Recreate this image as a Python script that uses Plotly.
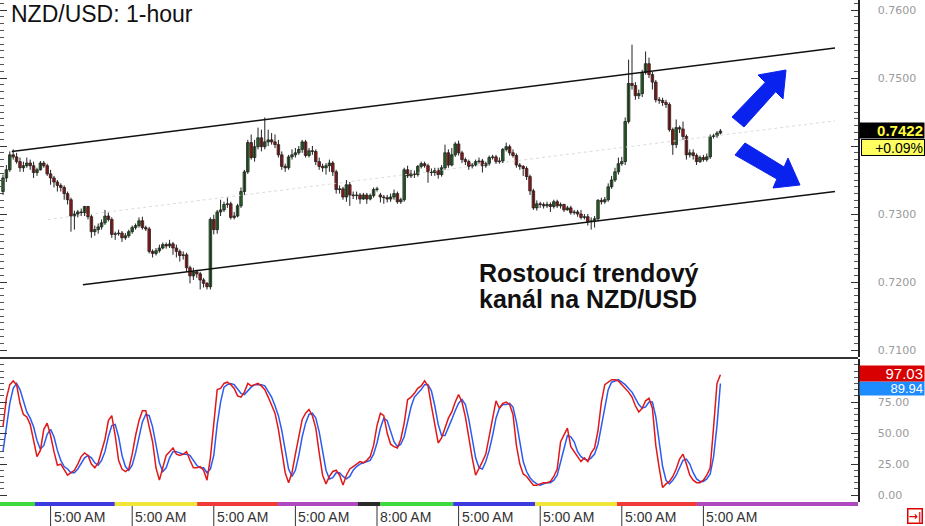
import plotly.graph_objects as go

W, H = 925, 526

# ---------------- data (prices in 1e-4 units) ----------------
OPEN_PIPS = [7333,7353,7365,7387,7384,7377,7368,7371,7375,7371,7361,7365,7375,7371,7359,7353,7347,7342,7339,7330,
             7321,7297,7300,7303,7302,7311,7296,7274,7277,7281,7287,7297,7292,7270,7271,7272,7265,7268,7274,7280,
             7283,7290,7280,7278,7245,7242,7246,7250,7255,7253,7256,7250,7245,7239,7240,7221,7209,7215,7212,7203,
             7198,7193,7292,7277,7303,7306,7314,7315,7295,7297,7312,7333,7362,7405,7383,7399,7412,7399,7406,7409,
             7406,7402,7387,7370,7368,7384,7387,7390,7395,7406,7386,7393,7392,7377,7370,7368,7371,7375,7362,7336,
             7337,7325,7343,7328,7327,7328,7322,7328,7322,7327,7336,7328,7325,7324,7322,7325,7330,7318,7321,7365,
             7356,7359,7358,7370,7374,7371,7362,7361,7364,7358,7368,7390,7372,7387,7403,7390,7380,7377,7370,7372,
             7377,7378,7371,7374,7383,7384,7377,7378,7395,7399,7390,7386,7372,7370,7367,7355,7334,7309,7315,7314,
             7312,7314,7311,7318,7312,7314,7306,7309,7302,7303,7300,7295,7296,7289,7290,7293,7320,7318,7321,7340,
             7350,7362,7374,7377,7436,7492,7489,7474,7477,7508,7521,7505,7494,7468,7467,7464,7461,7424,7402,7427,
             7425,7414,7387,7390,7386,7377,7383,7380,7384,7414,7415,7419]
HIGH_PIPS = [7358,7372,7392,7395,7390,7383,7377,7383,7380,7377,7368,7378,7378,7374,7365,7356,7350,7345,7342,7333,
             7324,7305,7306,7308,7312,7312,7299,7283,7286,7292,7306,7302,7295,7274,7277,7275,7272,7277,7283,7286,
             7295,7296,7283,7281,7248,7250,7255,7258,7258,7262,7259,7255,7248,7245,7243,7224,7221,7218,7215,7206,
             7200,7295,7299,7306,7321,7318,7324,7318,7303,7315,7339,7365,7409,7417,7409,7427,7424,7442,7424,7419,
             7417,7409,7392,7374,7387,7395,7397,7400,7409,7409,7397,7400,7395,7383,7374,7375,7380,7378,7365,7342,
             7340,7350,7347,7333,7333,7331,7331,7331,7330,7339,7340,7331,7328,7328,7330,7336,7333,7324,7368,7371,
             7365,7364,7372,7377,7377,7374,7367,7368,7368,7372,7402,7395,7397,7406,7408,7393,7383,7380,7375,7380,
             7383,7381,7377,7386,7387,7387,7383,7397,7405,7402,7395,7389,7375,7372,7370,7358,7337,7320,7318,7317,
             7318,7317,7321,7321,7317,7315,7312,7312,7306,7306,7306,7300,7300,7295,7297,7322,7324,7325,7345,7356,
             7368,7383,7384,7442,7527,7549,7494,7483,7512,7539,7530,7509,7497,7472,7471,7468,7464,7427,7439,7430,
             7436,7417,7395,7395,7389,7386,7387,7389,7417,7418,7422,7425]
LOW_PIPS = [7328,7347,7362,7380,7374,7362,7362,7368,7365,7353,7356,7364,7368,7356,7343,7339,7333,7333,7321,7314,
            7274,7277,7295,7297,7297,7292,7265,7268,7271,7277,7284,7289,7265,7262,7268,7259,7262,7265,7271,7277,
            7280,7277,7275,7242,7236,7239,7243,7248,7249,7250,7240,7236,7230,7233,7215,7198,7203,7206,7189,7192,
            7189,7189,7270,7271,7297,7303,7309,7292,7292,7295,7309,7328,7359,7380,7377,7395,7392,7395,7400,7402,
            7397,7383,7365,7362,7365,7380,7383,7387,7390,7383,7383,7387,7372,7365,7362,7358,7362,7356,7330,7330,
            7321,7318,7312,7322,7321,7315,7321,7315,7320,7324,7333,7317,7315,7317,7318,7321,7315,7315,7318,7353,
            7353,7353,7355,7367,7368,7346,7356,7356,7352,7355,7365,7368,7370,7384,7386,7375,7372,7365,7367,7370,
            7374,7361,7368,7371,7380,7374,7374,7375,7392,7386,7383,7368,7365,7356,7350,7328,7306,7305,7309,7308,
            7309,7303,7308,7309,7308,7303,7305,7299,7299,7296,7292,7292,7283,7277,7280,7290,7314,7315,7318,7337,
            7347,7358,7371,7372,7433,7483,7468,7469,7472,7505,7500,7483,7464,7462,7459,7456,7421,7387,7397,7419,
            7409,7380,7383,7380,7372,7375,7377,7377,7381,7411,7412,7417]
CLOSE_PIPS = [7353,7365,7387,7384,7377,7368,7371,7375,7371,7361,7365,7375,7371,7359,7353,7347,7342,7339,7330,7321,
              7297,7300,7303,7302,7311,7296,7274,7277,7281,7287,7297,7292,7270,7271,7272,7265,7268,7274,7280,7283,
              7290,7280,7278,7245,7242,7246,7250,7255,7253,7256,7250,7245,7239,7240,7221,7209,7215,7212,7203,7198,
              7193,7292,7277,7303,7306,7314,7315,7295,7297,7312,7333,7362,7405,7383,7399,7412,7399,7406,7409,7406,
              7402,7387,7370,7368,7384,7387,7390,7395,7406,7386,7393,7392,7377,7370,7368,7371,7375,7362,7336,7337,
              7325,7343,7328,7327,7328,7322,7328,7322,7327,7336,7337,7325,7324,7322,7325,7330,7318,7321,7365,7356,
              7359,7358,7370,7374,7371,7362,7361,7364,7358,7368,7390,7372,7387,7403,7390,7380,7377,7370,7372,7377,
              7378,7371,7374,7383,7384,7377,7378,7395,7399,7390,7386,7372,7370,7367,7355,7334,7309,7315,7314,7312,
              7314,7311,7318,7312,7314,7306,7309,7302,7303,7300,7295,7296,7289,7290,7293,7320,7318,7321,7340,7350,
              7362,7374,7377,7436,7492,7489,7474,7477,7508,7521,7505,7494,7468,7467,7464,7461,7424,7402,7427,7425,
              7414,7387,7390,7386,7377,7383,7380,7384,7414,7415,7419,7422]

STOCH_K = [55,78,89,92,89,74,65,63,57,45,31,36,53,58,48,35,24,25,21,16,
           18,20,25,31,34,32,25,22,26,35,45,60,64,48,28,21,19,21,33,48,
           60,68,68,55,43,22,12,22,32,35,38,33,32,33,35,28,22,22,23,20,
           12,30,55,85,86,90,91,89,86,80,79,83,90,88,89,90,88,85,79,72,
           66,53,36,18,10,18,33,46,61,66,69,64,54,34,16,9,15,19,20,16,
           8,16,21,23,25,27,26,28,31,40,56,66,64,50,41,39,38,45,58,77,
           79,82,86,88,92,88,72,56,42,46,55,62,67,75,81,75,63,45,30,16,
           21,27,33,47,64,76,70,74,75,73,65,40,25,17,15,11,8,8,9,10,
           10,11,15,21,43,48,54,39,35,30,27,30,27,34,38,52,75,89,91,93,
           93,92,89,86,83,79,72,67,70,76,78,70,40,22,6,9,11,15,21,29,
           33,25,16,12,10,10,12,16,22,55,90,97.03]
STOCH_D = [35,55,74,86,90,85,76,67,62,55,44,37,40,49,53,47,36,28,23,21,
           18,18,21,25,30,32,30,26,24,28,35,47,56,57,47,32,23,20,24,34,
           47,59,65,64,55,40,26,19,22,30,35,35,34,33,33,32,28,24,22,22,
           18,21,32,57,75,87,89,90,89,85,82,81,84,87,89,89,89,88,84,79,
           72,64,52,36,21,15,20,32,47,58,65,66,62,51,35,20,13,14,18,18,
           15,13,15,20,23,25,26,27,28,33,42,54,62,60,52,43,39,41,47,60,
           71,79,82,85,89,89,84,72,57,48,48,54,61,68,74,77,73,61,46,30,
           22,21,27,36,48,62,70,73,73,74,71,59,43,27,19,14,11,9,8,9,
           10,10,12,16,26,37,48,47,43,35,31,29,28,30,33,41,55,72,85,91,
           92,93,91,89,86,83,78,73,70,71,75,75,63,44,23,12,9,12,16,22,
           28,29,25,18,13,11,11,13,17,31,56,89.94]

# channel trend lines (candle index, price)
UPPER_X, UPPER_Y = [2.6, 244.7], [0.7392, 0.7544]
LOWER_X, LOWER_Y = [23.5, 244.7], [0.7196, 0.7333]
MID_X, MID_Y = [13.2, 244.7], [0.7292, 0.7437]

PRICE_TICKS = [0.71, 0.72, 0.73, 0.74, 0.75, 0.76]
PRICE_TICK_TEXT = ["0.7100", "0.7200", "0.7300", "", "0.7500", "0.7600"]  # 0.7400 hidden by price tag
STOCH_TICKS = [0, 25, 50, 75]
TIME_TICK_IDX = [14, 38, 62, 86, 110, 134, 158, 182, 206]
TIME_TICK_TEXT = ["5:00 AM", "5:00 AM", "5:00 AM", "5:00 AM", "8:00 AM",
                  "5:00 AM", "5:00 AM", "5:00 AM", "5:00 AM"]
SESSION_BOUNDS = [-0.9, 9.4, 32.9, 57.1, 80.9, 104.4, 110.9, 132.4, 156.5, 180.6, 204.1, 251.5]
SESSION_COLORS = ["#3fd83f", "#3b3be0", "#f2e53a", "#f03a3a", "#b048c0", "#2a2a2a",
                  "#3fd83f", "#3b3be0", "#f2e53a", "#f03a3a", "#b048c0"]
LAST_PRICE, LAST_CHANGE = "0.7422", "+0.09%"
K_LABEL, D_LABEL = "97.03", "89.94"
NOTE_LINES = ["Rostoucí trendový", "kanál na NZD/USD"]

opens = [v / 10000 for v in OPEN_PIPS]
highs = [v / 10000 for v in HIGH_PIPS]
lows = [v / 10000 for v in LOW_PIPS]
closes = [v / 10000 for v in CLOSE_PIPS]
idx = list(range(len(closes)))

# ---------------- geometry helpers ----------------
def py(p):  # pixel y -> paper y
    return 1 - p / H

def pxx(p):
    return p / W

XMAX = 858  # right axis pixel
XR = [-0.88, 251.47]

fig = go.Figure()

fig.add_trace(go.Scatter(x=MID_X, y=MID_Y, mode="lines", line=dict(color="#dcdcdc", width=1, dash="dot"),
                         hoverinfo="skip", showlegend=False, xaxis="x", yaxis="y"))

# candle wicks
wx, wy = [], []
for i, h, l in zip(idx, highs, lows):
    wx += [i, i, None]
    wy += [l, h, None]
fig.add_trace(go.Scatter(x=wx, y=wy, mode="lines", line=dict(color="#222", width=1),
                         hoverinfo="skip", showlegend=False, xaxis="x", yaxis="y"))
# candle bodies
base = [min(o, c) for o, c in zip(opens, closes)]
height = [max(abs(c - o), 0.00009) for o, c in zip(opens, closes)]
colors = ["#30a530" if c >= o else "#ff1414" for o, c in zip(opens, closes)]
fig.add_trace(go.Bar(x=idx, y=height, base=base, width=0.75,
                     marker=dict(color=colors, line=dict(color="#1a1a1a", width=0.8)),
                     hoverinfo="skip", showlegend=False, xaxis="x", yaxis="y"))

fig.add_trace(go.Scatter(x=UPPER_X, y=UPPER_Y, mode="lines", line=dict(color="#111", width=1.5),
                         hoverinfo="skip", showlegend=False, xaxis="x", yaxis="y"))
fig.add_trace(go.Scatter(x=LOWER_X, y=LOWER_Y, mode="lines", line=dict(color="#111", width=1.5),
                         hoverinfo="skip", showlegend=False, xaxis="x", yaxis="y"))

fig.add_trace(go.Scatter(x=idx, y=STOCH_D, mode="lines", line=dict(color="#2a5cf0", width=1.5),
                         hoverinfo="skip", showlegend=False, xaxis="x2", yaxis="y2"))
fig.add_trace(go.Scatter(x=idx, y=STOCH_K, mode="lines", line=dict(color="#e01818", width=1.5),
                         hoverinfo="skip", showlegend=False, xaxis="x2", yaxis="y2"))

axis_font = dict(family="DejaVu Sans", size=11, color="#9a9a9a")
common_y = dict(side="right", showgrid=False, zeroline=False, showline=True, linecolor="#222",
                linewidth=1.5, mirror="allticks", ticks="inside", ticklen=7, tickcolor="#333",
                tickfont=axis_font, ticklabelstandoff=16, automargin=False, fixedrange=True)

fig.update_layout(
    width=W, height=H, margin=dict(l=0, r=0, t=0, b=0),
    paper_bgcolor="white", plot_bgcolor="white", showlegend=False, barmode="overlay",
    xaxis=dict(domain=[0, XMAX / W], range=XR, showticklabels=False, showgrid=False, zeroline=False,
               anchor="y", fixedrange=True),
    xaxis2=dict(domain=[0, XMAX / W], range=XR, showticklabels=False, showgrid=False, zeroline=False,
                anchor="y2", matches="x", fixedrange=True),
    yaxis=dict(domain=[py(357), 1], range=[0.70897, 0.76147], anchor="x",
               tickvals=PRICE_TICKS, ticktext=PRICE_TICK_TEXT,
               minor=dict(ticks="inside", dtick=0.001, ticklen=4, tickcolor="#555", showgrid=False),
               **common_y),
    yaxis2=dict(domain=[py(502), py(359)], range=[-5.6, 109.7], anchor="x2",
                tickvals=STOCH_TICKS, ticktext=[f"{v:.2f}" for v in STOCH_TICKS],
                minor=dict(ticks="inside", dtick=5, ticklen=4, tickcolor="#555", showgrid=False),
                **common_y),
)

shapes = []
shapes.append(dict(type="line", xref="paper", yref="paper", x0=0, x1=pxx(XMAX), y0=py(358), y1=py(358),
                   line=dict(color="#333", width=2)))
for i, c in enumerate(SESSION_COLORS):
    shapes.append(dict(type="rect", xref="x", yref="paper", x0=SESSION_BOUNDS[i], x1=SESSION_BOUNDS[i + 1],
                       y0=py(506), y1=py(502), fillcolor=c, line=dict(width=0), layer="above"))
for t in TIME_TICK_IDX:
    shapes.append(dict(type="line", xref="x", yref="paper", x0=t, x1=t, y0=0, y1=py(506),
                       line=dict(color="#333", width=1)))

def poly(points):
    return "M " + " L ".join(f"{pxx(x):.5f},{py(y):.5f}" for x, y in points) + " Z"

up_arrow = [(732, 117), (744, 127), (775.7, 91.7), (783, 99), (786, 70), (758, 75), (765.3, 82.3)]
down_arrow = [(745, 143), (735, 155), (776.9, 179), (773, 188), (800, 185), (788, 158), (784.1, 167)]
for a in (up_arrow, down_arrow):
    shapes.append(dict(type="path", xref="paper", yref="paper", path=poly(a),
                       fillcolor="#0a22ee", line=dict(color="#0a22ee", width=1)))
fig.update_layout(shapes=shapes)

ann = []
ann.append(dict(x=pxx(9), y=py(14), xref="paper", yref="paper", xanchor="left", yanchor="middle",
                text="NZD/USD: 1-hour", showarrow=False,
                font=dict(family="Liberation Sans", size=23, color="#111")))
for k, (line, yy) in enumerate(zip(NOTE_LINES, [273, 299])):
    ann.append(dict(x=pxx(477), y=py(yy), xref="paper", yref="paper", xanchor="left", yanchor="middle",
                    text=f"<b>{line}</b>", showarrow=False, align="left",
                    font=dict(family="Liberation Sans", size=25, color="#111")))
for t, lab in zip(TIME_TICK_IDX, TIME_TICK_TEXT):
    ann.append(dict(x=t, y=py(517), xref="x", yref="paper", xanchor="left", yanchor="middle", xshift=1,
                    text=lab, showarrow=False, font=dict(family="Liberation Sans", size=14, color="#333")))
ann.append(dict(x=1, y=py(131), xref="paper", yref="paper", xanchor="right", yanchor="middle",
                text=f"<b>{LAST_PRICE}</b>", showarrow=False, bgcolor="#000", width=62, height=13,
                borderpad=1, align="right", font=dict(family="Liberation Sans", size=15, color="#ffff40")))
ann.append(dict(x=1, y=py(148), xref="paper", yref="paper", xanchor="right", yanchor="middle",
                text=LAST_CHANGE, showarrow=False, bgcolor="#ffff60", bordercolor="#000", borderwidth=1,
                width=60, height=13, borderpad=1, align="right",
                font=dict(family="Liberation Sans", size=14, color="#000")))
ann.append(dict(x=1, y=py(388), xref="paper", yref="paper", xanchor="right", yanchor="middle",
                text=D_LABEL, showarrow=False, bgcolor="#1e8cff", width=62, height=11, borderpad=1,
                align="right", font=dict(family="Liberation Sans", size=13, color="#fff")))
ann.append(dict(x=1, y=py(373), xref="paper", yref="paper", xanchor="right", yanchor="middle",
                text=K_LABEL, showarrow=False, bgcolor="#d80000", width=62, height=13, borderpad=1,
                align="right", font=dict(family="Liberation Sans", size=15, color="#fff")))
ann.append(dict(x=pxx(915), y=py(516), xref="paper", yref="paper", xanchor="center", yanchor="middle",
                text="<b>→|</b>", showarrow=False, bordercolor="#e00000", borderwidth=1.5, borderpad=0,
                font=dict(family="DejaVu Sans", size=11, color="#e00000")))
fig.update_layout(annotations=ann)

fig.write_html("out.html", config={"displayModeBar": False, "staticPlot": True},
               post_script="document.body.style.margin='0';document.body.style.overflow='hidden';")
